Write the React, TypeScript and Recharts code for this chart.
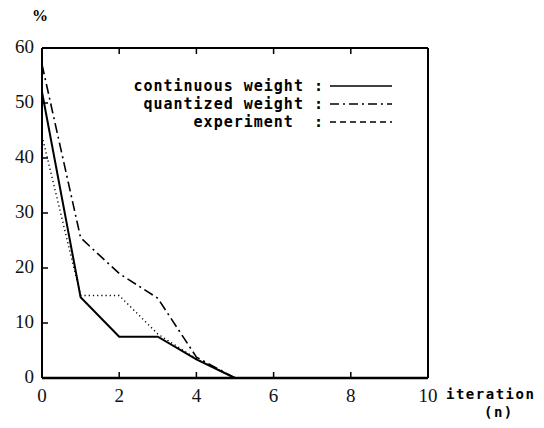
import { LineChart, Line, XAxis, YAxis } from 'recharts'

const iterations = [0, 1, 2, 3, 4, 5]
const continuousWeight = [52, 14.7, 7.5, 7.5, 3.4, 0]
const quantizedWeight = [57, 25.5, 19, 14.5, 3.8, 0]
const experiment = [44, 15, 15, 8, 3.5, 0]

const xTicks = [0, 2, 4, 6, 8, 10]
const yTicks = [0, 10, 20, 30, 40, 50, 60]

const SERIES = [
  { key: 'continuous', label: 'continuous weight :', dash: undefined, width: 2, legendDash: undefined },
  { key: 'quantized', label: 'quantized weight :', dash: '10 4 2 4', width: 1.6, legendDash: '9 4 2 4' },
  { key: 'experiment', label: 'experiment  :', dash: '1.2 3', width: 1.4, legendDash: '6 4' },
]

const data = iterations.map((n, i) => ({
  n,
  continuous: continuousWeight[i],
  quantized: quantizedWeight[i],
  experiment: experiment[i],
}))

const serif = '"Liberation Serif", "DejaVu Serif", serif'
const mono = '"DejaVu Sans Mono", "Liberation Mono", monospace'

// ticks point inward, labels sit outside the frame
const BottomTick = ({ x, y, payload }: any) => (
  <g>
    <line x1={x} x2={x} y1={y} y2={y - 6} stroke="#000" strokeWidth={1.5} />
    <text x={x} y={y + 24} textAnchor="middle" fontFamily={serif} fontSize={19} fill="#111">
      {payload.value}
    </text>
  </g>
)
const TopTick = ({ x, y }: any) => <line x1={x} x2={x} y1={y} y2={y + 6} stroke="#000" strokeWidth={1.5} />
const LeftTick = ({ x, y, payload }: any) => (
  <g>
    <line x1={x} x2={x + 6} y1={y} y2={y} stroke="#000" strokeWidth={1.5} />
    <text x={x - 8} y={y + 5} textAnchor="end" fontFamily={serif} fontSize={19} fill="#111">
      {payload.value}
    </text>
  </g>
)
const RightTick = ({ x, y }: any) => <line x1={x} x2={x - 6} y1={y} y2={y} stroke="#000" strokeWidth={1.5} />

const LegendBox = () => (
  <div
    style={{
      position: 'absolute',
      left: 0,
      top: 77,
      fontFamily: mono,
      fontWeight: 'bold',
      fontSize: 15,
      letterSpacing: 1,
      color: '#000',
    }}
  >
    {SERIES.map((s) => (
      <div key={s.key} style={{ display: 'flex', alignItems: 'center', height: 18 }}>
        <span style={{ width: 324, textAlign: 'right', whiteSpace: 'pre' }}>{s.label}</span>
        <svg width={66} height={18} style={{ marginLeft: 6 }}>
          <line x1={0} x2={62} y1={9} y2={9} stroke="#000" strokeWidth={1.4} strokeDasharray={s.legendDash} />
        </svg>
      </div>
    ))}
  </div>
)

export default function App() {
  return (
    <div style={{ position: 'fixed', left: 0, top: 0, width: 544, height: 428, background: '#fff' }}>
      <LineChart width={544} height={428} data={data} margin={{ top: 47, right: 115, bottom: 49, left: 41 }}>
        <XAxis
          xAxisId="b"
          dataKey="n"
          type="number"
          domain={[0, 10]}
          ticks={xTicks}
          height={1}
          tickSize={0}
          tickMargin={0}
          tickLine={false}
          axisLine={{ stroke: '#000', strokeWidth: 2.5 }}
          tick={<BottomTick />}
          interval={0}
        />
        <XAxis
          xAxisId="t"
          orientation="top"
          dataKey="n"
          type="number"
          domain={[0, 10]}
          ticks={xTicks}
          height={1}
          tickSize={0}
          tickMargin={0}
          tickLine={false}
          axisLine={{ stroke: '#000', strokeWidth: 2 }}
          tick={<TopTick />}
          interval={0}
        />
        <YAxis
          yAxisId="l"
          type="number"
          domain={[0, 60]}
          ticks={yTicks}
          width={1}
          tickSize={0}
          tickMargin={0}
          tickLine={false}
          axisLine={{ stroke: '#000', strokeWidth: 2 }}
          tick={<LeftTick />}
          interval={0}
        />
        <YAxis
          yAxisId="r"
          orientation="right"
          type="number"
          domain={[0, 60]}
          ticks={yTicks}
          width={1}
          tickSize={0}
          tickMargin={0}
          tickLine={false}
          axisLine={{ stroke: '#000', strokeWidth: 2 }}
          tick={<RightTick />}
          interval={0}
        />
        {SERIES.map((s) => (
          <Line
            key={s.key}
            xAxisId="b"
            yAxisId="l"
            dataKey={s.key}
            type="linear"
            stroke="#000"
            strokeWidth={s.width}
            strokeDasharray={s.dash}
            dot={false}
            isAnimationActive={false}
          />
        ))}
      </LineChart>
      <LegendBox />
      <div style={{ position: 'absolute', left: 32, top: 7, fontFamily: serif, fontWeight: 'bold', fontSize: 16 }}>%</div>
      <div style={{ position: 'absolute', left: 446, top: 386, fontFamily: mono, fontWeight: 'bold', fontSize: 14, letterSpacing: 1.5 }}>
        iteration
      </div>
      <div style={{ position: 'absolute', left: 484, top: 404, fontFamily: mono, fontWeight: 'bold', fontSize: 14, letterSpacing: 1.5 }}>
        (n)
      </div>
    </div>
  )
}
